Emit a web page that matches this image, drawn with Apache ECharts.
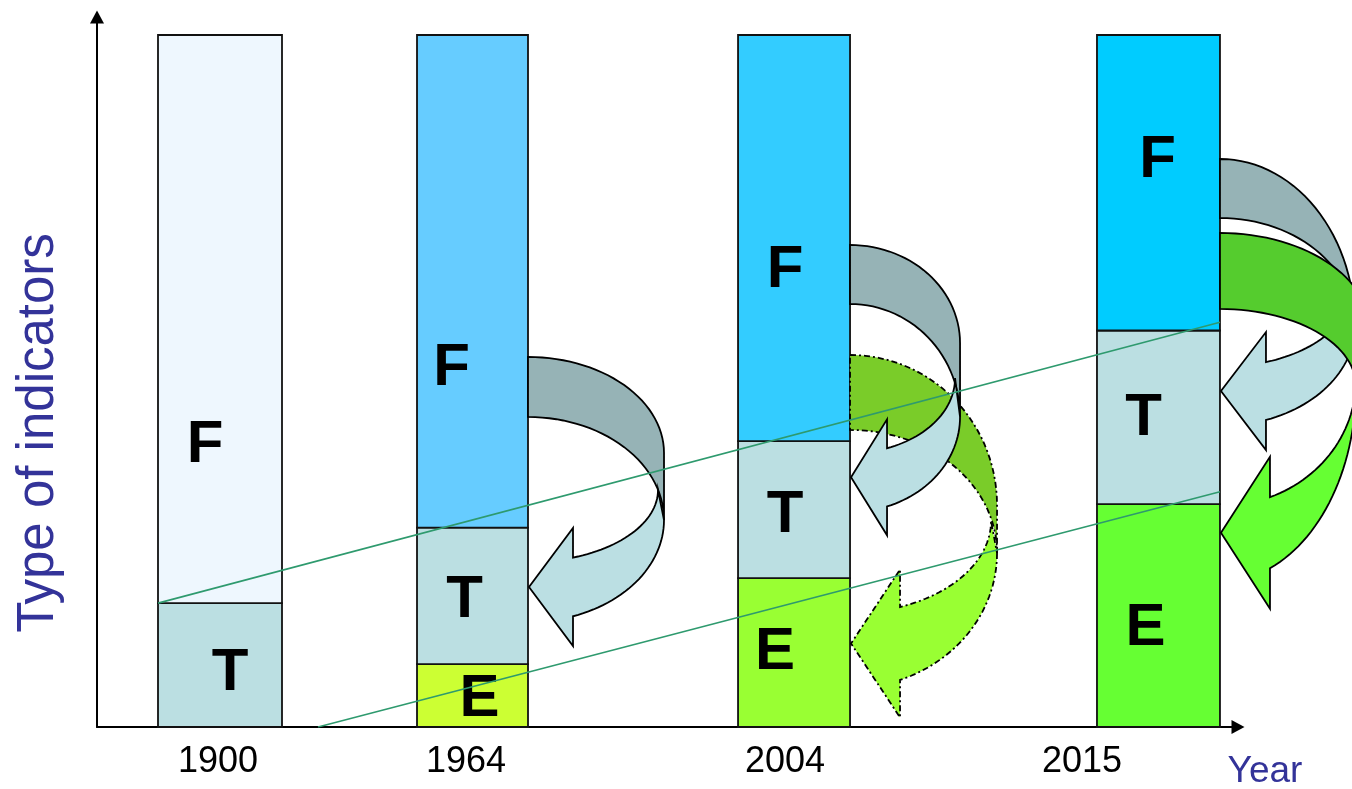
<!DOCTYPE html>
<html><head><meta charset="utf-8">
<script src="https://cdn.jsdelivr.net/npm/echarts@6/dist/echarts.min.js"></script>
<style>html,body{margin:0;padding:0;background:#fff}#c{width:1352px;height:789px}</style>
</head><body><div id="c"></div>
<script>
// ---------- data ----------
const years = ['1900', '1964', '2004', '2015'];
const xPos = [10.78, 32.91, 61.09, 93.03];          // slot of each year's bar on the (non-linear) year axis
const tickPos = [10.6, 32.34, 60.3, 86.33];         // where each year tick label sits
const valE = [0, 9.1, 21.5, 32.2];
const valT = [17.9, 19.7, 19.8, 25.1];
const valF = [82.1, 71.2, 58.7, 42.7];
const trendT = [[5.35, 17.9], [98.42, 58.5]];
const trendE = [[19.37, 0], [98.42, 34.0]];
// curved arrows (drawn in this order): source bar and key heights in value units
const arrowBar   = [1, 2, 2, 3, 3];
const arrowStart = [53.47, 53.76, 69.65, 82.08, 71.39];
const arrowTopC  = [39.60, 32.08, 55.49, 57.95, 57.37];
const arrowBotC  = [29.91, 25.14, 44.80, 57.95, 49.28];
const arrowEnd   = [15.17, 5.64, 31.07, 43.50, 20.95];
const arrowInC   = [34.25, 29.77, 50.43, 62.86, 50.14];

// ---------- styles ----------
const barW = [124, 111, 112, 123];
const colF = ['#EEF7FE', '#66CCFF', '#33CCFF', '#00CCFF'];
const colT = ['#BBDFE2', '#BBDFE2', '#BBDFE2', '#BBDFE2'];
const colE = ['#CCFF33', '#CCFF33', '#99FF33', '#66FF33'];
const labelPlace = {
  F: [[-15, 40.75], [-21, 51.88], [-9, 66.04], [-1, 81.94]],
  T: [[10, 7.80], [-8, 18.35], [-9, 30.64], [-15, 44.65]],
  E: [[0, 0], [7, 4.05], [-19, 10.84], [-13, 14.31]]
};
const arrowStyle = [
  {t: 60, R1: 136, R2: 136, Ri: 130, hl: 45, hh: 59, dark: '#96B3B6', light: '#BBDFE3', dash: null},
  {t: 75, R1: 147, R2: 147, Ri: 141, hl: 50, hh: 74, dark: '#7ACC29', light: '#99FF33', dash: [6, 3, 2, 3]},
  {t: 59, R1: 110, R2: 110, Ri: 105, hl: 37, hh: 58, dark: '#96B3B6', light: '#BBDFE3', dash: null},
  {t: 59, R1: 135, R2: 135, Ri: 130, hl: 46, hh: 59, dark: '#96B3B6', light: '#BBDFE3', dash: null},
  {t: 76, R1: 150, R2: 136, Ri: 136, hl: 50, hh: 76, dark: '#55CC2E', light: '#66FF33', dash: null}
];
const FONT = '"Liberation Sans", Arial, Helvetica, sans-serif';

// ---------- build segments ----------
const segData = [];
years.forEach((y, i) => {
  const segs = [['E', valE[i]], ['T', valT[i]], ['F', valF[i]]];
  let base = 0;
  segs.forEach(([name, v], s) => {
    if (v > 0) segData.push([xPos[i], base, base + v, i, s]);
    base += v;
  });
});
const segNames = ['E', 'T', 'F'];
const segCols = [colE, colT, colF];

function arc(pts, cx, cy, rx, ry, a0, a1, n) {
  for (let k = 0; k <= n; k++) {
    const a = a0 + (a1 - a0) * k / n;
    pts.push([cx + rx * Math.sin(a), cy + ry * Math.cos(a)]);
  }
}

const chart = echarts.init(document.getElementById('c'));
chart.setOption({
  backgroundColor: '#fff',
  animation: false,
  grid: {left: 97, right: 114, top: 17, bottom: 62},
  xAxis: {
    type: 'value', min: 0, max: 100,
    axisLine: {lineStyle: {color: '#000', width: 2}, symbol: ['none', 'triangle'], symbolSize: [14, 13]},
    axisTick: {show: false},
    splitLine: {show: false},
    axisLabel: {
      customValues: tickPos,
      margin: 17,
      color: '#000', fontSize: 36, fontFamily: FONT,
      formatter: function (v) {
        let best = 0;
        tickPos.forEach((p, i) => { if (Math.abs(p - v) < Math.abs(tickPos[best] - v)) best = i; });
        return years[best];
      }
    }
  },
  yAxis: {
    type: 'value', min: 0, max: 102.6,
    axisLine: {show: true, lineStyle: {color: '#000', width: 2}, symbol: ['none', 'triangle'], symbolSize: [14, 13]},
    axisTick: {show: false}, axisLabel: {show: false}, splitLine: {show: false}
  },
  graphic: [
    {type: 'text', x: 39, y: 433, rotation: Math.PI / 2,
     style: {text: 'Type of indicators', font: '51px ' + FONT, fill: '#333399', align: 'center', verticalAlign: 'middle'}},
    {type: 'text', x: 1265, y: 772,
     style: {text: 'Year', font: '37px ' + FONT, fill: '#333399', align: 'center', verticalAlign: 'middle'}}
  ],
  series: [
    {
      type: 'custom', z: 2, data: segData,
      renderItem: function (params, api) {
        const i = api.value(3), s = api.value(4);
        const p0 = api.coord([api.value(0), api.value(1)]);
        const p1 = api.coord([api.value(0), api.value(2)]);
        const w = barW[i];
        const name = segNames[s];
        const lp = labelPlace[name][i];
        return {type: 'group', children: [
          {type: 'rect', shape: {x: p0[0] - w / 2, y: p1[1], width: w, height: p0[1] - p1[1]},
           style: {fill: segCols[s][i], stroke: '#111', lineWidth: 1.8}},
          {type: 'text', x: p0[0] + lp[0], y: api.coord([0, lp[1]])[1],
           style: {text: name, font: 'bold 60px ' + FONT, fill: '#000', align: 'center', verticalAlign: 'middle'}}
        ]};
      }
    },
    {
      type: 'custom', z: 3, clip: false,
      data: arrowBar.map((b, k) => [xPos[b], arrowStart[k], k]),
      renderItem: function (params, api) {
        const k = api.value(2);
        const st = arrowStyle[k];
        const b = arrowBar[k];
        const x0 = api.coord([xPos[b], 0])[0] + barW[b] / 2;
        const Y = v => api.coord([0, v])[1];
        const yS = Y(arrowStart[k]), cT = Y(arrowTopC[k]), cB = Y(arrowBotC[k]);
        const yE = Y(arrowEnd[k]), ci = Y(arrowInC[k]);
        const t = st.t;
        const dark = [];
        arc(dark, x0, cT, st.R1, cT - yS, Math.PI, Math.PI / 2, 30);
        arc(dark, x0, cB, st.R2, cB - (yS + t), Math.PI / 2, Math.PI, 30);
        const light = [];
        const aB = yE - cB;
        const ab = Math.asin(Math.min(1, st.hl / st.R2));
        arc(light, x0, cB, st.R2, aB, Math.PI / 2, ab, 30);
        const ai = (yE - t) - ci;
        const abi = Math.asin(Math.min(1, st.hl / st.Ri));
        const xb = x0 + st.hl;
        const yob = cB + aB * Math.cos(ab);
        const yib = ci + ai * Math.cos(abi);
        const mid = (yob + yib) / 2;
        light.push([xb, mid + st.hh], [x0 + 1, mid], [xb, mid - st.hh], [xb, yib]);
        arc(light, x0, ci, st.Ri, ai, abi, Math.PI / 2, 30);
        const stroke = {stroke: '#000', lineWidth: 1.8, lineDash: st.dash || null};
        return {type: 'group', children: [
          {type: 'polygon', shape: {points: dark}, style: Object.assign({fill: st.dark}, stroke)},
          {type: 'polygon', shape: {points: light}, style: Object.assign({fill: st.light}, stroke)}
        ]};
      }
    },
    {type: 'line', z: 5, data: trendT, symbol: 'none', silent: true, lineStyle: {color: '#2E9A6E', width: 1.6}},
    {type: 'line', z: 5, data: trendE, symbol: 'none', silent: true, lineStyle: {color: '#2E9A6E', width: 1.6}}
  ]
});
</script></body></html>
